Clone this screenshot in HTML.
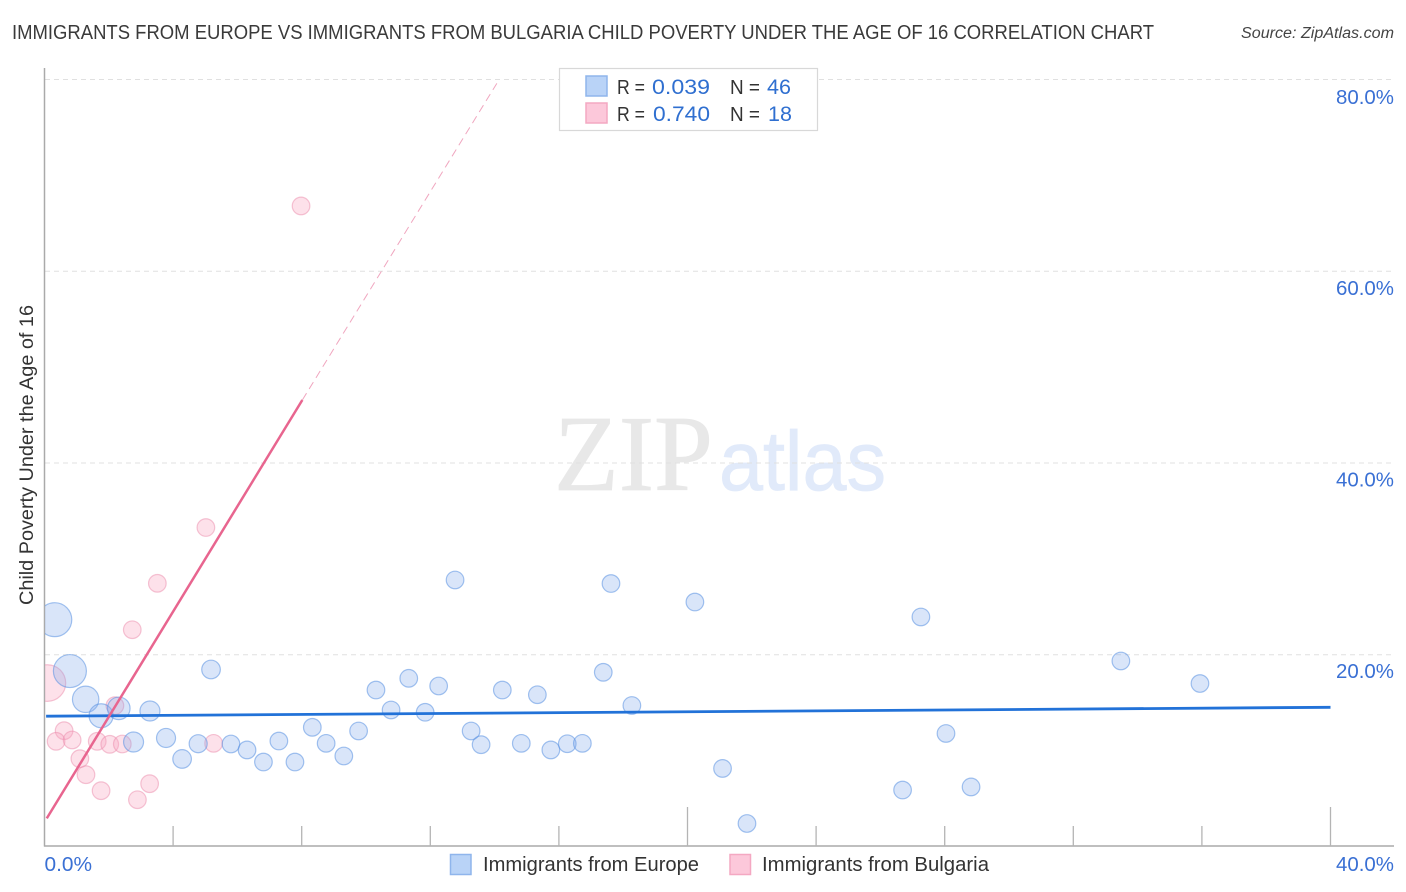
<!DOCTYPE html>
<html lang="en">
<head>
<meta charset="utf-8">
<title>Immigrants from Europe vs Immigrants from Bulgaria Child Poverty Correlation Chart</title>
<style>
html,body{margin:0;padding:0;background:#fff;}
body{width:1406px;height:892px;overflow:hidden;}
svg{display:block;font-family:"Liberation Sans",sans-serif;}
</style>
</head>
<body>
<svg id="chart" xmlns="http://www.w3.org/2000/svg" width="1406" height="892" viewBox="0 0 1406 892">
  <defs>
    <clipPath id="plot-clip"><rect x="45" y="60" width="1349" height="786"/></clipPath>
  </defs>
  <rect x="0" y="0" width="1406" height="892" fill="#ffffff"/>
  <text x="12" y="39" font-size="20" fill="#3a3a3a" textLength="1142" lengthAdjust="spacingAndGlyphs">IMMIGRANTS FROM EUROPE VS IMMIGRANTS FROM BULGARIA CHILD POVERTY UNDER THE AGE OF 16 CORRELATION CHART</text>
  <text x="1394" y="38" font-size="15.5" font-style="italic" fill="#444444" text-anchor="end" textLength="153" lengthAdjust="spacingAndGlyphs">Source: ZipAtlas.com</text>

  <g>
    <text x="554" y="490" font-family="'Liberation Serif',serif" font-size="108" fill="#e8e8e8" stroke="#e8e8e8" stroke-width="0.8" textLength="159" lengthAdjust="spacingAndGlyphs">ZIP</text>
    <text x="719" y="490" font-size="84" fill="#e1eafa" stroke="#e1eafa" stroke-width="0.8" textLength="167" lengthAdjust="spacingAndGlyphs">atlas</text>
  </g>

  <g id="grid"></g>
  <g id="axes"></g>
  <g id="marks-bulgaria" clip-path="url(#plot-clip)"></g>
  <g id="marks-europe" clip-path="url(#plot-clip)"></g>
  <g id="trends"></g>
  <g id="labels"></g>

  <text transform="translate(33,605) rotate(-90)" font-size="19.5" fill="#333333" textLength="300" lengthAdjust="spacingAndGlyphs">Child Poverty Under the Age of 16</text>

  <g>
    <rect x="559.5" y="68.5" width="258" height="62" fill="#ffffff" stroke="#d8d8d8" stroke-width="1.2"/>
    <rect x="586" y="76" width="21" height="20" fill="#b9d3f7" stroke="#8fb5ec" stroke-width="1.5"/>
    <text x="617" y="94" font-size="20" fill="#333333" textLength="28" lengthAdjust="spacingAndGlyphs">R =</text>
    <text x="652" y="94" font-size="21.5" fill="#2f6fd0" textLength="58" lengthAdjust="spacingAndGlyphs">0.039</text>
    <text x="730" y="94" font-size="20" fill="#333333" textLength="30" lengthAdjust="spacingAndGlyphs">N =</text>
    <text x="767" y="94" font-size="21.5" fill="#2f6fd0" textLength="24" lengthAdjust="spacingAndGlyphs">46</text>
    <rect x="586" y="103" width="21" height="20" fill="#fcc8da" stroke="#f4a8c2" stroke-width="1.5"/>
    <text x="617" y="121" font-size="20" fill="#333333" textLength="28" lengthAdjust="spacingAndGlyphs">R =</text>
    <text x="653" y="121" font-size="21.5" fill="#2f6fd0" textLength="57" lengthAdjust="spacingAndGlyphs">0.740</text>
    <text x="730" y="121" font-size="20" fill="#333333" textLength="30" lengthAdjust="spacingAndGlyphs">N =</text>
    <text x="768" y="121" font-size="21.5" fill="#2f6fd0">18</text>
  </g>

  <g>
    <rect x="450.5" y="854.5" width="20.5" height="20" fill="#b9d3f7" stroke="#8fb5ec" stroke-width="1.5"/>
    <text x="483" y="871" font-size="20" fill="#333333" textLength="216" lengthAdjust="spacingAndGlyphs">Immigrants from Europe</text>
    <rect x="730" y="854.5" width="20.5" height="20" fill="#fcc8da" stroke="#f4a8c2" stroke-width="1.5"/>
    <text x="762" y="871" font-size="20" fill="#333333" textLength="227" lengthAdjust="spacingAndGlyphs">Immigrants from Bulgaria</text>
  </g>
</svg>
<script>
const europeX = [0.32,0.79,1.28,1.76,2.31,3.28,2.77,3.78,4.28,4.78,5.18,5.80,6.30,6.81,7.29,7.79,8.33,8.76,9.31,9.77,10.31,10.78,11.33,11.84,12.26,13.27,13.58,14.24,14.83,15.33,15.75,16.26,16.73,17.38,18.27,12.77,17.62,20.23,21.09,21.85,26.69,27.26,28.04,28.82,33.48,35.94];
const europeY = [23.66,18.30,15.35,13.64,14.41,14.13,10.90,11.32,9.13,10.72,18.46,10.69,10.07,8.81,11.00,8.81,12.43,10.76,9.44,12.05,16.32,14.24,17.54,14.00,16.74,12.05,10.62,16.32,10.76,15.83,10.07,10.72,10.76,18.17,14.71,27.80,27.43,25.50,8.14,2.40,5.89,23.94,11.79,6.21,19.35,17.00];
const europeWeight = [3.73,3.52,2.25,1.86,1.65,1.29,1.29,1.17,1.12,1.05,1.12,1,1,1,1,1,1,1,1,1,1,1,1,1,1,1,1,1,1,1,1,1,1,1,1,1,1,1,1,1,1,1,1,1,1,1];
const bulgariaX = [0.09,3.51,2.73,7.98,5.02,2.19,0.61,0.36,0.86,1.64,2.03,2.42,5.26,1.10,1.29,1.76,2.89,3.27];
const bulgariaY = [17.05,27.45,22.61,66.81,33.27,14.69,12.08,10.97,11.11,10.97,10.66,10.69,10.76,9.16,7.49,5.82,4.88,6.55];
const bulgariaWeight = [4.33,1,1,1,1,1,1,1,1,1,1,1,1,1,1,1,1,1];
const europeTrendX = [0.05,40];
const europeTrendY = [13.59,14.52];
const bulgariaTrendX = [0.07,8.02];
const bulgariaTrendY = [2.93,46.57];
const bulgariaDashX = [8.02,14.07];
const bulgariaDashY = [46.57,79.6];
const xTicks = [4,8,12,16,20,24,28,32,36,40];
const xMajorTicks = [20,40];
const yGrid = [20,40,60,80];
const yTickLabels = ["20.0%","40.0%","60.0%","80.0%"];
const xTickLabels = ["0.0%","40.0%"];

const NS = "http://www.w3.org/2000/svg";
function xPos(v){ return 44.5 + v * 32.15; }
function yPos(v){ return 846.5 - v * 9.5875; }
function rPos(w){ return 8.8 * Math.sqrt(w); }
function yLabelPos(v){ return 869.4 - v * 9.57; }
function make(tag, parentId, attrs){
  const el = document.createElementNS(NS, tag);
  for (const k in attrs) el.setAttribute(k, attrs[k]);
  document.getElementById(parentId).appendChild(el);
  return el;
}

yGrid.forEach(function(v){
  const g = make("line","grid",{x1:45,x2:1394,y1:yPos(v),y2:yPos(v),stroke:"#e0e0e0","stroke-width":1,"stroke-dasharray":"5 4"});
  
  
});

const yAxisLine = make("line","axes",{x1:44.5,x2:44.5,y1:68,y2:846.5,stroke:"#aaaaaa","stroke-width":1.5});


const xAxisLine = make("line","axes",{x1:44,x2:1394,y1:846,y2:846,stroke:"#aaaaaa","stroke-width":1.5});


xTicks.forEach(function(v){
  const top = xMajorTicks.includes(v) ? 807 : 826;
  const t = make("line","axes",{x1:xPos(v),x2:xPos(v),y1:top,y2:846,stroke:"#b4b4b4","stroke-width":1.3});
  
  
});

function drawPoints(xs, ys, ws, parentId, fill, stroke, name){
  xs.forEach(function(x,i){
    const c = make("circle",parentId,{cx:xPos(x),cy:yPos(ys[i]),r:rPos(ws[i]),fill:fill,stroke:stroke,"stroke-width":1.2});
    
    
  });
}
drawPoints(bulgariaX,bulgariaY,bulgariaWeight,"marks-bulgaria","rgba(248,165,192,0.33)","rgba(236,140,172,0.5)","bulgaria-point");
drawPoints(europeX,europeY,europeWeight,"marks-europe","rgba(130,170,235,0.3)","rgba(90,145,225,0.55)","europe-point");

const trendEurope = make("line","trends",{x1:xPos(europeTrendX[0]),y1:yPos(europeTrendY[0]),x2:xPos(europeTrendX[1]),y2:yPos(europeTrendY[1]),stroke:"#2272d8","stroke-width":2.8});


const trendBulgaria = make("line","trends",{x1:xPos(bulgariaTrendX[0]),y1:yPos(bulgariaTrendY[0]),x2:xPos(bulgariaTrendX[1]),y2:yPos(bulgariaTrendY[1]),stroke:"#e8658f","stroke-width":2.5});


const dashBulgaria = make("line","trends",{x1:xPos(bulgariaDashX[0]),y1:yPos(bulgariaDashY[0]),x2:xPos(bulgariaDashX[1]),y2:yPos(bulgariaDashY[1]),stroke:"#f0a6bf","stroke-width":1,"stroke-dasharray":"8 5"});



yGrid.forEach(function(v,i){
  const t = make("text","labels",{x:1394,y:yLabelPos(v),"font-size":20.5,fill:"#3a70d4","text-anchor":"end",textLength:58,lengthAdjust:"spacingAndGlyphs"});
  t.textContent = yTickLabels[i];
  
  
});
const x0Label = make("text","labels",{x:44.5,y:871,"font-size":20.5,fill:"#3a70d4",textLength:47.5,lengthAdjust:"spacingAndGlyphs"});
x0Label.textContent = xTickLabels[0];


const x40Label = make("text","labels",{x:1394,y:871,"font-size":20.5,fill:"#3a70d4","text-anchor":"end",textLength:58,lengthAdjust:"spacingAndGlyphs"});
x40Label.textContent = xTickLabels[1];


</script>
</body>
</html>
